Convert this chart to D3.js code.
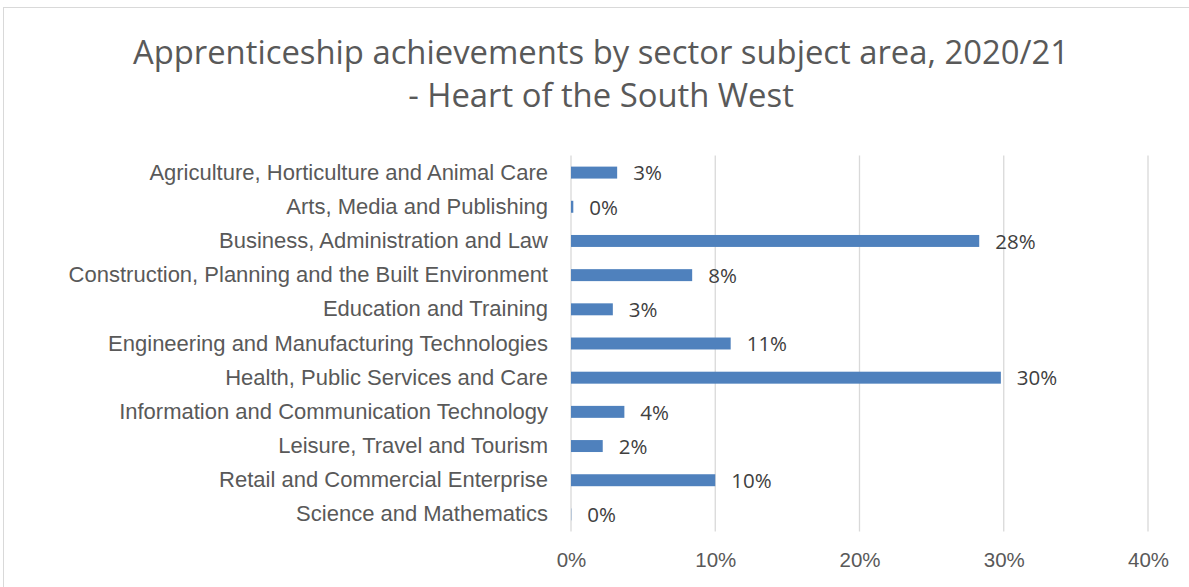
<!DOCTYPE html>
<html><head><meta charset="utf-8">
<script src="https://cdn.jsdelivr.net/npm/d3@7"></script>
<style>body{margin:0;background:#fff;}svg{display:block;font-family:"Open Sans","Liberation Sans",Arial,sans-serif;}</style>
</head><body>
<svg id="c" width="1189" height="587"></svg>
<script>
const categories = [
  "Agriculture, Horticulture and Animal Care",
  "Arts, Media and Publishing",
  "Business, Administration and Law",
  "Construction, Planning and the Built Environment",
  "Education and Training",
  "Engineering and Manufacturing Technologies",
  "Health, Public Services and Care",
  "Information and Communication Technology",
  "Leisure, Travel and Tourism",
  "Retail and Commercial Enterprise",
  "Science and Mathematics"
];
const values = [0.032, 0.0016, 0.283, 0.084, 0.029, 0.1107, 0.298, 0.037, 0.022, 0.100, 0.0002];
const xTicks = [0, 0.1, 0.2, 0.3, 0.4];
const titleLines = ["Apprenticeship achievements by sector subject area, 2020/21", "- Heart of the South West"];

const svg = d3.select("#c");
const W = 1189, H = 587;
const m = {left: 571, right: 41, top: 155.5, bottom: 55.5};

svg.append("rect").attr("x", 3.5).attr("y", 7.5).attr("width", W).attr("height", H)
  .attr("fill", "none").attr("stroke", "#d9d9d9").attr("stroke-width", 1);

svg.append("g").selectAll("text").data(titleLines).join("text")
  .attr("x", 601).attr("y", (d, i) => 64 + i * 43)
  .attr("text-anchor", "middle").attr("fill", "#595959")
  .style("font-size", "32.8px").text(d => d);

const x = d3.scaleLinear().domain([0, 0.4]).range([m.left, W - m.right]);
const y = d3.scaleBand().domain(categories).range([m.top, H - m.bottom]).paddingInner(0.65).paddingOuter(0.325);

const grid = svg.append("g");
grid.selectAll("line").data(xTicks).join("line")
  .attr("x1", d => x(d)).attr("x2", d => x(d))
  .attr("y1", m.top).attr("y2", H - m.bottom)
  .attr("stroke", "#d9d9d9").attr("stroke-width", 1.3);

const xAxis = svg.append("g").attr("transform", `translate(0,${H - m.bottom})`)
  .call(d3.axisBottom(x).tickValues(xTicks).tickFormat(d3.format(".0%")).tickSize(0).tickPadding(21));
xAxis.select(".domain").remove();
xAxis.selectAll("text").attr("fill", "#595959").style("font-size", "20.5px").style("font-family", "inherit");

const yAxis = svg.append("g").attr("transform", `translate(${m.left},0)`)
  .call(d3.axisLeft(y).tickSize(0).tickPadding(23));
yAxis.select(".domain").remove();
yAxis.selectAll("text").attr("fill", "#595959").style("font-size", "22px").style("font-family", "inherit");

svg.append("g").selectAll("rect").data(values).join("rect")
  .attr("x", x(0)).attr("y", (d, i) => y(categories[i]))
  .attr("width", d => x(d) - x(0)).attr("height", y.bandwidth())
  .attr("fill", "#4f81bd");

svg.append("g").selectAll("text").data(values).join("text")
  .attr("x", d => x(d) + 16).attr("y", (d, i) => y(categories[i]) + y.bandwidth() / 2)
  .attr("dy", "0.38em").attr("fill", "#404040").style("font-size", "20.5px")
  .text(d => d3.format(".0%")(d));
</script>
</body></html>
